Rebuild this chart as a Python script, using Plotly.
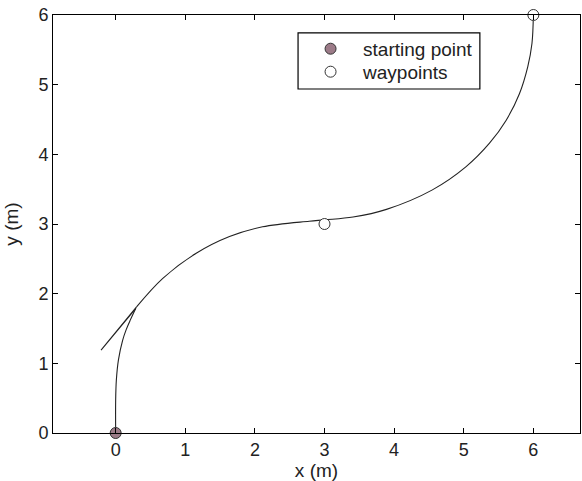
import plotly.graph_objects as go

# Trajectory pieces (metres)
climb_x = [0.0, 0.0, 0.01, 0.04, 0.10, 0.15, 0.21, 0.29]
climb_y = [0.0, 0.47, 0.76, 1.05, 1.33, 1.48, 1.62, 1.79]

kink_x = [0.29, -0.21, 0.30]
kink_y = [1.79, 1.19, 1.81]

cruise_x = [0.30, 0.677, 1.157, 1.635, 2.11, 2.78, 3.0, 3.41, 3.89, 4.55, 5.03, 5.37, 5.61, 5.80, 5.92, 5.98, 6.0]
cruise_y = [1.81, 2.22, 2.58, 2.82, 2.96, 3.04, 3.06, 3.10, 3.21, 3.49, 3.82, 4.16, 4.49, 4.87, 5.26, 5.59, 6.0]

start_x = [0]
start_y = [0]
waypoint_x = [3, 6]
waypoint_y = [3, 6]

x_ticks = [0, 1, 2, 3, 4, 5, 6]
y_ticks = [0, 1, 2, 3, 4, 5, 6]

font = "Liberation Sans, Arial, sans-serif"
line_style = dict(color="#222222", width=1.1)

fig = go.Figure()
fig.add_trace(go.Scatter(x=climb_x, y=climb_y, mode="lines", line=dict(shape="spline", **line_style),
                         showlegend=False, hoverinfo="skip"))
fig.add_trace(go.Scatter(x=kink_x, y=kink_y, mode="lines", line=line_style,
                         showlegend=False, hoverinfo="skip"))
fig.add_trace(go.Scatter(x=cruise_x, y=cruise_y, mode="lines", line=dict(shape="spline", **line_style),
                         showlegend=False, hoverinfo="skip"))
fig.add_trace(go.Scatter(x=start_x, y=start_y, mode="markers", name="starting point", legend="legend",
                         marker=dict(size=11, color="#9c7b88", line=dict(color="#333333", width=1)),
                         cliponaxis=False))
fig.add_trace(go.Scatter(x=waypoint_x, y=waypoint_y, mode="markers", name="waypoints", legend="legend2",
                         marker=dict(size=11, color="white", line=dict(color="#333333", width=1)),
                         cliponaxis=False))

axis_common = dict(showgrid=False, zeroline=False, showline=True, linecolor="black", linewidth=1,
                   mirror="ticks", ticks="inside", ticklen=5, tickcolor="black",
                   tickfont=dict(family=font, size=18, color="#222222"))

# one legend per entry so the rows sit close together inside a shared frame
legend_common = dict(x=0.465, xanchor="left", yanchor="middle", borderwidth=0,
                     bgcolor="rgba(0,0,0,0)", itemwidth=55,
                     font=dict(family=font, size=19, color="#222222"))

fig.update_layout(
    width=582, height=481,
    margin=dict(l=53, r=2, t=15, b=48),
    paper_bgcolor="white", plot_bgcolor="white",
    font=dict(family=font, color="#222222"),
    xaxis=dict(range=[-0.9, 6.67], tickvals=x_ticks,
               title=dict(text="x (m)", font=dict(size=19), standoff=5), **axis_common),
    yaxis=dict(range=[0, 6], tickvals=y_ticks,
               title=dict(text="y (m)", font=dict(size=19), standoff=14), **axis_common),
    legend=dict(y=0.919, **legend_common),
    legend2=dict(y=0.864, **legend_common),
    shapes=[dict(type="rect", xref="paper", yref="paper", x0=0.465, x1=0.810, y0=0.823, y1=0.957,
                 line=dict(color="black", width=1.2), fillcolor="white", layer="below")],
)

fig.write_html("out.html")
